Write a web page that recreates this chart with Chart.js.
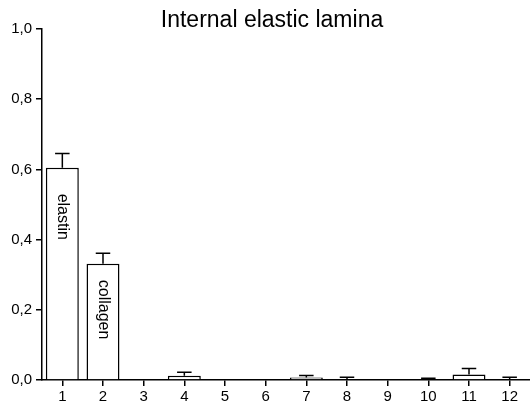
<!DOCTYPE html>
<html>
<head>
<meta charset="utf-8">
<script src="https://cdn.jsdelivr.net/npm/chart.js@4.4.0/dist/chart.umd.min.js"></script>
<style>
  html, body { margin: 0; padding: 0; background: #fff; }
  #wrap { width: 530px; height: 412px; position: relative; }
</style>
</head>
<body>
<div id="wrap"><canvas id="laminaChart"></canvas></div>
<script>
// data
const categories = ['1','2','3','4','5','6','7','8','9','10','11','12'];
const meanValues = [0.605, 0.331, 0, 0.012, 0, 0, 0.007, 0.002, 0, 0.002, 0.016, 0.002];
const errorValues = [0.04, 0.03, 0, 0.01, 0, 0, 0.006, 0.006, 0, 0.003, 0.017, 0.006];
const barLabels = ['elastin', 'collagen', '', '', '', '', '', '', '', '', '', ''];
const yTicks = [0, 0.2, 0.4, 0.6, 0.8, 1.0];
const chartTitle = 'Internal elastic lamina';

const FONT = 'Liberation Sans, Arial, sans-serif';

// upward error bars with caps
const errorBars = {
  id: 'errorBars',
  afterDatasetsDraw(chart) {
    const ctx = chart.ctx;
    const meta = chart.getDatasetMeta(0);
    const y = chart.scales.y;
    ctx.save();
    ctx.strokeStyle = '#000';
    ctx.lineWidth = 1.5;
    meta.data.forEach((bar, i) => {
      if (!errorValues[i]) return;
      const top = y.getPixelForValue(meanValues[i] + errorValues[i]);
      const base = y.getPixelForValue(meanValues[i]);
      const half = bar.width * 0.22;
      ctx.beginPath();
      ctx.moveTo(bar.x, base);
      ctx.lineTo(bar.x, top);
      ctx.moveTo(bar.x - half, top);
      ctx.lineTo(bar.x + half, top);
      ctx.stroke();
    });
    ctx.restore();
  }
};

// rotated text inside the bars + title
const insideLabels = {
  id: 'insideLabels',
  afterDatasetsDraw(chart) {
    const ctx = chart.ctx;
    const meta = chart.getDatasetMeta(0);
    const gaps = [26, 16];
    ctx.save();
    ctx.fillStyle = '#000';
    ctx.font = '16px ' + FONT;
    ctx.textAlign = 'left';
    ctx.textBaseline = 'middle';
    meta.data.forEach((bar, i) => {
      if (!barLabels[i]) return;
      ctx.save();
      ctx.translate(bar.x, bar.y + (gaps[i] || 16));
      ctx.rotate(Math.PI / 2);
      ctx.fillText(barLabels[i], 0, 0);
      ctx.restore();
    });
    // title, a little right of the page centre like the original
    ctx.font = '23px ' + FONT;
    ctx.textAlign = 'center';
    ctx.textBaseline = 'alphabetic';
    ctx.fillText(chartTitle, (chart.width + 14) / 2, 27);
    ctx.restore();
  }
};

const ctx = document.getElementById('laminaChart').getContext('2d');
const laminaChart = new Chart(ctx, {
  type: 'bar',
  data: {
    labels: categories,
    datasets: [{
      data: meanValues,
      backgroundColor: '#fff',
      borderColor: '#000',
      borderWidth: 1.5,
      categoryPercentage: 1,
      barPercentage: 0.81
    }]
  },
  options: {
    responsive: true,
    maintainAspectRatio: false,
    animation: false,
    layout: { padding: { left: 0, right: 0, top: 29, bottom: 0 } },
    plugins: {
      legend: { display: false },
      tooltip: { enabled: false },
      title: { display: false }
    },
    scales: {
      x: {
        offset: true,
        grid: { offset: false, drawOnChartArea: false, drawTicks: true, tickLength: 6, color: '#000', lineWidth: 1.5 },
        border: { display: true, color: '#000', width: 1.5 },
        ticks: { color: '#000', padding: 2, font: { family: FONT, size: 15 }, maxRotation: 0 },
        afterFit(scale) { scale.height = 32; }
      },
      y: {
        min: 0,
        max: 1,
        afterBuildTicks(scale) { scale.ticks = yTicks.map(v => ({ value: v })); },
        grid: { drawOnChartArea: false, drawTicks: true, tickLength: 6, color: '#000', lineWidth: 1.5 },
        border: { display: true, color: '#000', width: 1.5 },
        ticks: {
          color: '#000',
          padding: 4,
          font: { family: FONT, size: 15 },
          callback: v => v.toFixed(1).replace('.', ',')
        },
        afterFit(scale) { scale.width = 42; }
      }
    }
  },
  plugins: [errorBars, insideLabels]
});
</script>
</body>
</html>
